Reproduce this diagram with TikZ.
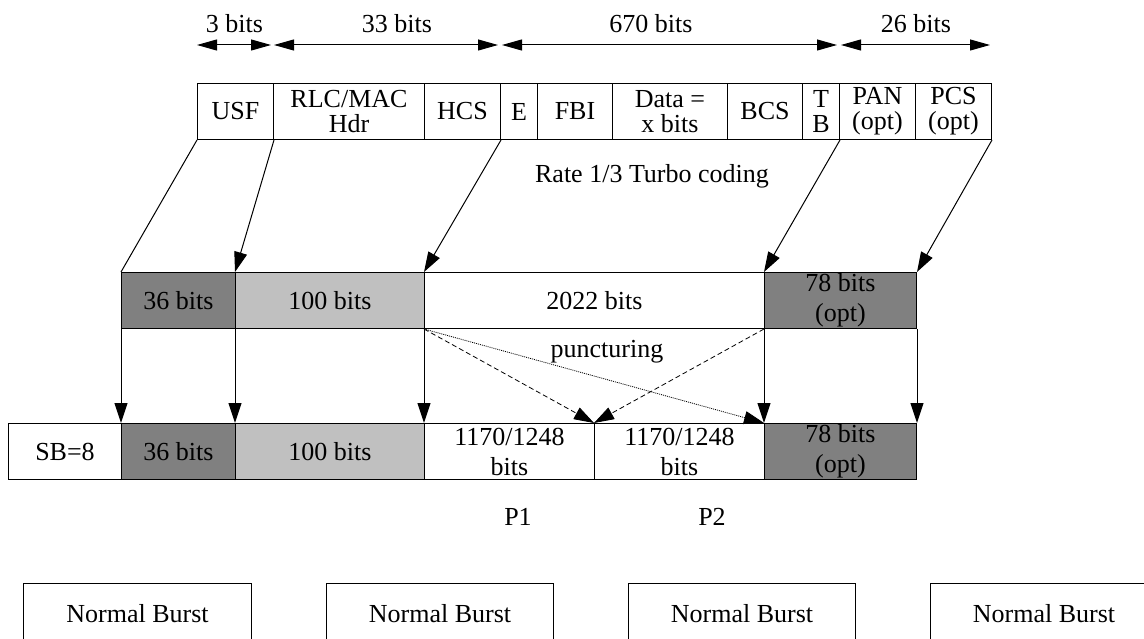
\documentclass[tikz,border=0pt]{standalone}
\usepackage{fontspec}
\setmainfont{Liberation Serif}
\usetikzlibrary{arrows.meta}
\definecolor{darkcell}{HTML}{808080}
\definecolor{lightcell}{HTML}{C0C0C0}
\begin{document}
\begin{tikzpicture}[x=1pt,y=-1pt,line width=1pt,
  font=\fontsize{26}{25}\selectfont,
  cell/.style={draw, rectangle, inner sep=0pt, align=center, anchor=north west, minimum height=56pt},
  cellwide/.style={cell, font=\fontsize{26}{30}\selectfont},
  dimarrow/.style={{Triangle[length=20pt,width=11pt]}-{Triangle[length=20pt,width=11pt]}},
  maparrow/.style={-{Triangle[length=20pt,width=13pt]}},
  dashline/.style={maparrow, dash pattern=on 5pt off 3pt, line width=0.8pt},
  dotline/.style={maparrow, dash pattern=on 1pt off 1pt, line width=0.8pt},
  lbl/.style={anchor=base, inner sep=0pt}]
\clip (0,0) rectangle (1144,639);
\fill[white] (0,0) rectangle (1144,639);

% dimension arrows
\coordinate (d0) at (197,45);
\coordinate (d1) at (271,45);
\coordinate (d2) at (274,45);
\coordinate (d3) at (498,45);
\coordinate (d4) at (502,45);
\coordinate (d5) at (837,45);
\coordinate (d6) at (841,45);
\coordinate (d7) at (990,45);
\draw[dimarrow] (d0) -- (d1);
\draw[dimarrow] (d2) -- (d3);
\draw[dimarrow] (d4) -- (d5);
\draw[dimarrow] (d6) -- (d7);
\node[lbl] (l3) at (234.5,33) {3 bits};
\node[lbl] (l33) at (397,33) {33 bits};
\node[lbl] (l670) at (651,33) {670 bits};
\node[lbl] (l26) at (916,33) {26 bits};

% top row
\node[cell, minimum width=76pt] (usf) at (197,83) {USF};
\node[cell, minimum width=151pt] (rlc) at (273,83) {RLC/MAC\\Hdr};
\node[cell, minimum width=76pt] (hcs) at (424,83) {HCS};
\node[cell, minimum width=37pt] (e) at (500,83) {E};
\node[cell, minimum width=75pt] (fbi) at (537,83) {FBI};
\node[cell, minimum width=115pt] (data) at (612,83) {Data =\\x bits};
\node[cell, minimum width=75pt] (bcs) at (727,83) {BCS};
\node[cell, minimum width=37pt] (tb) at (802,83) {T\\B};
\node[cell, minimum width=76pt] (pan) at (839,83) {PAN\\(opt)};
\node[cell, minimum width=76pt] (pcs) at (915,83) {PCS\\(opt)};

\node[lbl] (rate) at (652,183) {Rate 1/3 Turbo coding};

% middle row
\node[cellwide, fill=darkcell, minimum width=114pt] (m1) at (121,272) {36 bits};
\node[cellwide, fill=lightcell, minimum width=189pt] (m2) at (235,272) {100 bits};
\node[cellwide, minimum width=340pt] (m3) at (424,272) {2022 bits};
\node[cellwide, fill=darkcell, minimum width=152pt] (m4) at (764,272) {78 bits\\(opt)};

\node[lbl] (punct) at (607,357) {puncturing};

% bottom row
\node[cellwide, minimum width=113pt] (b0) at (8,423) {SB=8};
\node[cellwide, fill=darkcell, minimum width=114pt] (b1) at (121,423) {36 bits};
\node[cellwide, fill=lightcell, minimum width=189pt] (b2) at (235,423) {100 bits};
\node[cellwide, minimum width=170pt] (b3) at (424,423) {1170/1248\\bits};
\node[cellwide, minimum width=170pt] (b4) at (594,423) {1170/1248\\bits};
\node[cellwide, fill=darkcell, minimum width=152pt] (b5) at (764,423) {78 bits\\(opt)};

\node[lbl] (p1) at (518,525) {P1};
\node[lbl] (p2) at (712,525) {P2};

% normal bursts
\node[cell, minimum width=228pt, minimum height=60pt] (nb1) at (23,583) {Normal Burst};
\node[cell, minimum width=227pt, minimum height=60pt] (nb2) at (326,583) {Normal Burst};
\node[cell, minimum width=227pt, minimum height=60pt] (nb3) at (628,583) {Normal Burst};
\node[cell, minimum width=227pt, minimum height=60pt] (nb4) at (930,583) {Normal Burst};

% top -> middle
\draw (usf.south west) -- (m1.north west);
\draw[maparrow] (usf.south east) -- (m2.north west);
\draw[maparrow] (hcs.south east) -- (m3.north west);
\draw[maparrow] (tb.south east) -- (m4.north west);
\draw[maparrow] (pcs.south east) -- (m4.north east);

% middle -> bottom
\draw[maparrow] (m1.south west) -- (b1.north west);
\draw[maparrow] (m2.south west) -- (b2.north west);
\draw[maparrow] (m3.south west) -- (b3.north west);
\draw[maparrow] (m4.south west) -- (b5.north west);
\draw[maparrow] (m4.south east) -- (b5.north east);

% puncturing
\draw[dashline] (m3.south west) -- (b4.north west);
\draw[dashline] (m4.south west) -- (b4.north west);
\draw[dotline] (m3.south west) -- (b5.north west);
\end{tikzpicture}
\end{document}
